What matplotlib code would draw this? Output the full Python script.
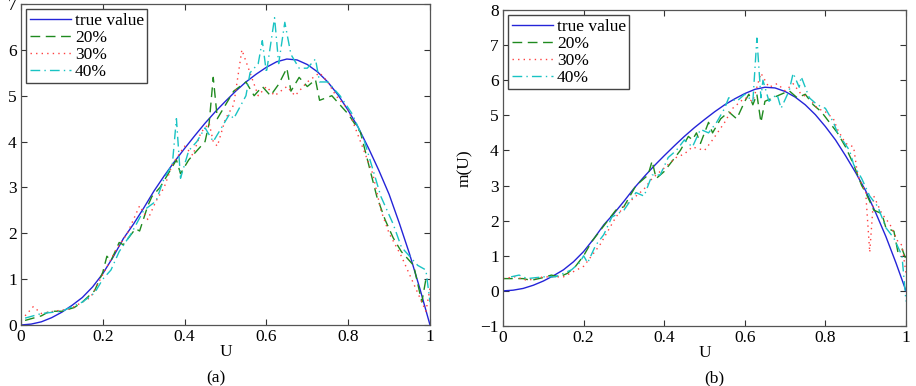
import numpy as np
import matplotlib
matplotlib.use('Agg')
import matplotlib.pyplot as plt

plt.rcParams['font.family'] = ['Liberation Serif', 'DejaVu Serif']
plt.rcParams['font.size'] = 12.5

# true value curve (same in both panels)
u_true = [0, 0.025, 0.05, 0.075, 0.1, 0.125, 0.15, 0.175, 0.2, 0.225, 0.25, 0.275,
          0.3, 0.325, 0.35, 0.375, 0.4, 0.425, 0.45, 0.475, 0.5, 0.525, 0.55, 0.575,
          0.6, 0.625, 0.65, 0.675, 0.7, 0.725, 0.75, 0.775, 0.8, 0.825, 0.85, 0.875,
          0.9, 0.925, 0.95, 0.975, 1.0]
m_true = [0, 0.02, 0.07, 0.16, 0.28, 0.43, 0.6, 0.83, 1.12, 1.48, 1.88, 2.2,
          2.55, 2.92, 3.25, 3.56, 3.85, 4.13, 4.4, 4.65, 4.88, 5.1, 5.3, 5.47,
          5.62, 5.74, 5.8, 5.78, 5.68, 5.52, 5.3, 5.02, 4.68, 4.3, 3.85, 3.37,
          2.85, 2.22, 1.55, 0.8, 0]

# panel (a) noisy estimates
u_a20 = [0.01, 0.05, 0.07, 0.1, 0.13, 0.15, 0.18, 0.2, 0.21, 0.22, 0.24, 0.25, 0.28,
         0.29, 0.31, 0.32, 0.34, 0.36, 0.38, 0.39, 0.41, 0.43, 0.45, 0.46, 0.47, 0.48,
         0.5, 0.52, 0.55, 0.57, 0.59, 0.61, 0.63, 0.65, 0.66, 0.68, 0.7, 0.72, 0.73,
         0.76, 0.78, 0.8, 0.83, 0.85, 0.87, 0.89, 0.91, 0.93, 0.96, 0.98, 0.99, 1.0]
m_a20 = [0.1, 0.2, 0.3, 0.3, 0.38, 0.5, 0.75, 1.15, 1.5, 1.4, 1.8, 1.75, 2.1,
         2.05, 2.6, 2.8, 3.0, 3.3, 3.6, 3.3, 3.6, 3.8, 4.0, 4.4, 5.4, 4.5,
         4.8, 5.1, 5.3, 5.0, 5.2, 5.0, 5.25, 5.6, 5.1, 5.4, 5.2, 5.35, 4.9,
         5.0, 4.8, 4.6, 4.2, 3.5, 2.8, 2.3, 1.9, 1.6, 1.3, 0.5, 1.0, 1.0]

u_a30 = [0.01, 0.03, 0.05, 0.08, 0.12, 0.17, 0.2, 0.23, 0.26, 0.29, 0.31, 0.33, 0.35,
         0.37, 0.4, 0.42, 0.44, 0.46, 0.47, 0.48, 0.5, 0.52, 0.54, 0.56, 0.58, 0.6,
         0.62, 0.65, 0.67, 0.7, 0.73, 0.75, 0.77, 0.8, 0.83, 0.86, 0.88, 0.9, 0.93,
         0.96, 0.98, 0.99, 1.0]
m_a30 = [0.2, 0.4, 0.25, 0.3, 0.35, 0.6, 1.1, 1.6, 2.0, 2.6, 2.3, 2.7, 3.0,
         3.5, 3.9, 3.7, 4.2, 4.4, 4.0, 3.9, 4.5, 4.8, 6.0, 5.5, 5.0, 5.2,
         5.0, 5.2, 5.0, 5.3, 5.5, 5.3, 5.0, 4.7, 4.0, 3.3, 2.5, 2.0, 1.5,
         0.9, 0.5, 0.3, 0.8]

u_a40 = [0.01, 0.03, 0.05, 0.1, 0.15, 0.18, 0.2, 0.22, 0.24, 0.27, 0.3, 0.33, 0.35,
         0.37, 0.38, 0.39, 0.41, 0.43, 0.45, 0.47, 0.49, 0.51, 0.52, 0.55, 0.56, 0.58,
         0.59, 0.6, 0.62, 0.63, 0.645, 0.66, 0.68, 0.7, 0.72, 0.73, 0.75, 0.78, 0.81,
         0.84, 0.86, 0.88, 0.91, 0.93, 0.95, 0.97, 0.99, 1.0]
m_a40 = [0.15, 0.2, 0.25, 0.3, 0.5, 0.7, 1.0, 1.2, 1.6, 2.0, 2.5, 2.7, 3.2,
         3.5, 4.5, 3.2, 3.8, 4.0, 4.3, 4.0, 4.3, 4.6, 4.5, 5.0, 5.5, 5.7,
         6.2, 5.5, 6.7, 5.7, 6.6, 5.9, 5.6, 5.6, 5.8, 5.3, 5.3, 5.0, 4.6,
         4.0, 3.4, 2.8, 2.2, 1.7, 1.5, 1.3, 1.2, 0.5]

# panel (b) noisy estimates
u_b20 = [0, 0.05, 0.07, 0.1, 0.12, 0.14, 0.16, 0.18, 0.2, 0.22, 0.24, 0.26, 0.28,
         0.3, 0.32, 0.33, 0.36, 0.37, 0.38, 0.4, 0.42, 0.44, 0.46, 0.47, 0.48, 0.49,
         0.51, 0.52, 0.54, 0.56, 0.58, 0.6, 0.61, 0.62, 0.63, 0.64, 0.65, 0.67, 0.69,
         0.71, 0.73, 0.75, 0.77, 0.79, 0.81, 0.83, 0.85, 0.87, 0.89, 0.9, 0.92, 0.94,
         0.95, 0.97, 0.98, 0.99, 1.0]
m_b20 = [0.35, 0.35, 0.3, 0.38, 0.45, 0.4, 0.5, 0.7, 1.0, 1.4, 1.7, 2.0, 2.3,
         2.4, 2.8, 3.0, 3.3, 3.7, 3.2, 3.4, 3.7, 4.0, 4.4, 4.3, 4.5, 4.2,
         4.8, 4.5, 4.9, 5.1, 4.9, 5.4, 5.6, 5.3, 5.6, 4.8, 5.4, 5.5, 5.6,
         5.7, 5.5, 5.6, 5.3, 5.1, 4.8, 4.5, 4.1, 3.6, 3.0, 2.8, 2.3, 2.2,
         1.8, 1.7, 1.1, 1.2, 0.9]

u_b30 = [0, 0.03, 0.06, 0.1, 0.15, 0.2, 0.22, 0.24, 0.26, 0.28, 0.3, 0.32, 0.35,
         0.37, 0.39, 0.41, 0.43, 0.45, 0.47, 0.5, 0.52, 0.55, 0.57, 0.6, 0.62, 0.64,
         0.66, 0.68, 0.7, 0.72, 0.74, 0.76, 0.78, 0.8, 0.82, 0.83, 0.85, 0.87, 0.88,
         0.9, 0.91, 0.92, 0.94, 0.96, 0.98, 0.99, 1.0]
m_b30 = [0.35, 0.4, 0.3, 0.4, 0.4, 0.7, 1.0, 1.3, 1.7, 2.1, 2.4, 2.6, 2.9,
         3.2, 3.4, 3.6, 3.8, 3.9, 4.1, 4.0, 4.3, 4.8, 5.2, 5.5, 5.4, 6.2,
         5.8, 5.9, 5.7, 5.9, 5.6, 5.5, 5.2, 5.1, 4.9, 4.6, 4.2, 4.1, 3.3,
         2.8, 1.1, 2.7, 2.2, 1.9, 1.4, 1.3, 0.5]

u_b40 = [0.02, 0.04, 0.06, 0.1, 0.13, 0.17, 0.19, 0.2, 0.21, 0.23, 0.25, 0.27, 0.3,
         0.33, 0.35, 0.37, 0.39, 0.41, 0.43, 0.45, 0.47, 0.49, 0.51, 0.53, 0.55, 0.56,
         0.58, 0.6, 0.62, 0.63, 0.64, 0.645, 0.66, 0.68, 0.69, 0.71, 0.72, 0.735, 0.74,
         0.76, 0.78, 0.8, 0.82, 0.83, 0.86, 0.87, 0.89, 0.91, 0.93, 0.95, 0.97, 0.99,
         1.0]
m_b40 = [0.4, 0.45, 0.35, 0.4, 0.4, 0.6, 0.8, 1.0, 0.8, 1.3, 1.6, 2.1, 2.3,
         2.8, 2.7, 3.3, 3.3, 3.8, 4.0, 4.3, 4.1, 4.6, 4.5, 4.8, 5.2, 5.5,
         5.4, 5.6, 5.4, 7.2, 5.5, 6.0, 5.4, 5.6, 5.2, 5.7, 6.2, 5.8, 6.1,
         5.5, 5.3, 5.2, 4.8, 4.5, 4.0, 3.6, 3.2, 2.7, 2.4, 1.8, 1.5, 1.0,
         -0.3]

labels = ['true value', '20%', '30%', '40%']
x_ticks = [0, 0.2, 0.4, 0.6, 0.8, 1]
x_ticklabels = ['0', '0.2', '0.4', '0.6', '0.8', '1']

c_true = '#2424d8'
c20 = '#1f8a1f'
c30 = '#ff4040'
c40 = '#19c3c3'

fig = plt.figure(figsize=(9.16, 3.86), dpi=100)
ax_a = fig.add_axes([21 / 916, 1 - 325 / 386, 409 / 916, 321 / 386])
ax_b = fig.add_axes([503 / 916, 1 - 326 / 386, 403 / 916, 316 / 386])


def draw(ax, s20, s30, s40, ylim, yticks):
    ax.plot(u_true, m_true, color=c_true, lw=1.0, label=labels[0])
    ax.plot(*s20, color=c20, lw=1.0, dashes=(7, 4), label=labels[1])
    ax.plot(*s30, color=c30, lw=1.0, dashes=(1, 3), label=labels[2])
    ax.plot(*s40, color=c40, lw=1.0, dashes=(7, 3, 1, 3), label=labels[3])
    ax.set_xlim(0, 1)
    ax.set_ylim(*ylim)
    ax.set_xticks(x_ticks)
    ax.set_xticklabels(x_ticklabels)
    ax.set_yticks(yticks)
    ax.tick_params(direction='in', top=True, right=True, length=4,
                   width=0.8, colors='#333333', labelcolor='black', pad=3)
    for sp in ax.spines.values():
        sp.set_color('#555555')
        sp.set_linewidth(0.9)
    ax.set_xlabel('U', labelpad=-1)
    ax.set_ylabel('m(U)')
    ax.yaxis.set_label_coords(-0.074, 0.5)
    leg = ax.legend(loc='upper left', handlelength=2.4, handletextpad=0.2,
                    labelspacing=0.05, borderpad=0.2, borderaxespad=0.3,
                    fancybox=False, framealpha=1)
    leg.get_frame().set_edgecolor('#444444')
    leg.get_frame().set_linewidth(1.0)


draw(ax_a, (u_a20, m_a20), (u_a30, m_a30), (u_a40, m_a40), (0, 7), range(0, 8))
draw(ax_b, (u_b20, m_b20), (u_b30, m_b30), (u_b40, m_b40), (-1, 8), range(-1, 9))
ax_b.set_yticklabels(['\u22121'] + [str(v) for v in range(0, 9)])

fig.text(216 / 916, 1 - 378 / 386, '(a)', ha='center', va='center')
fig.text(714 / 916, 1 - 378 / 386, '(b)', ha='center', va='center')

fig.savefig('out.png', dpi=100)
